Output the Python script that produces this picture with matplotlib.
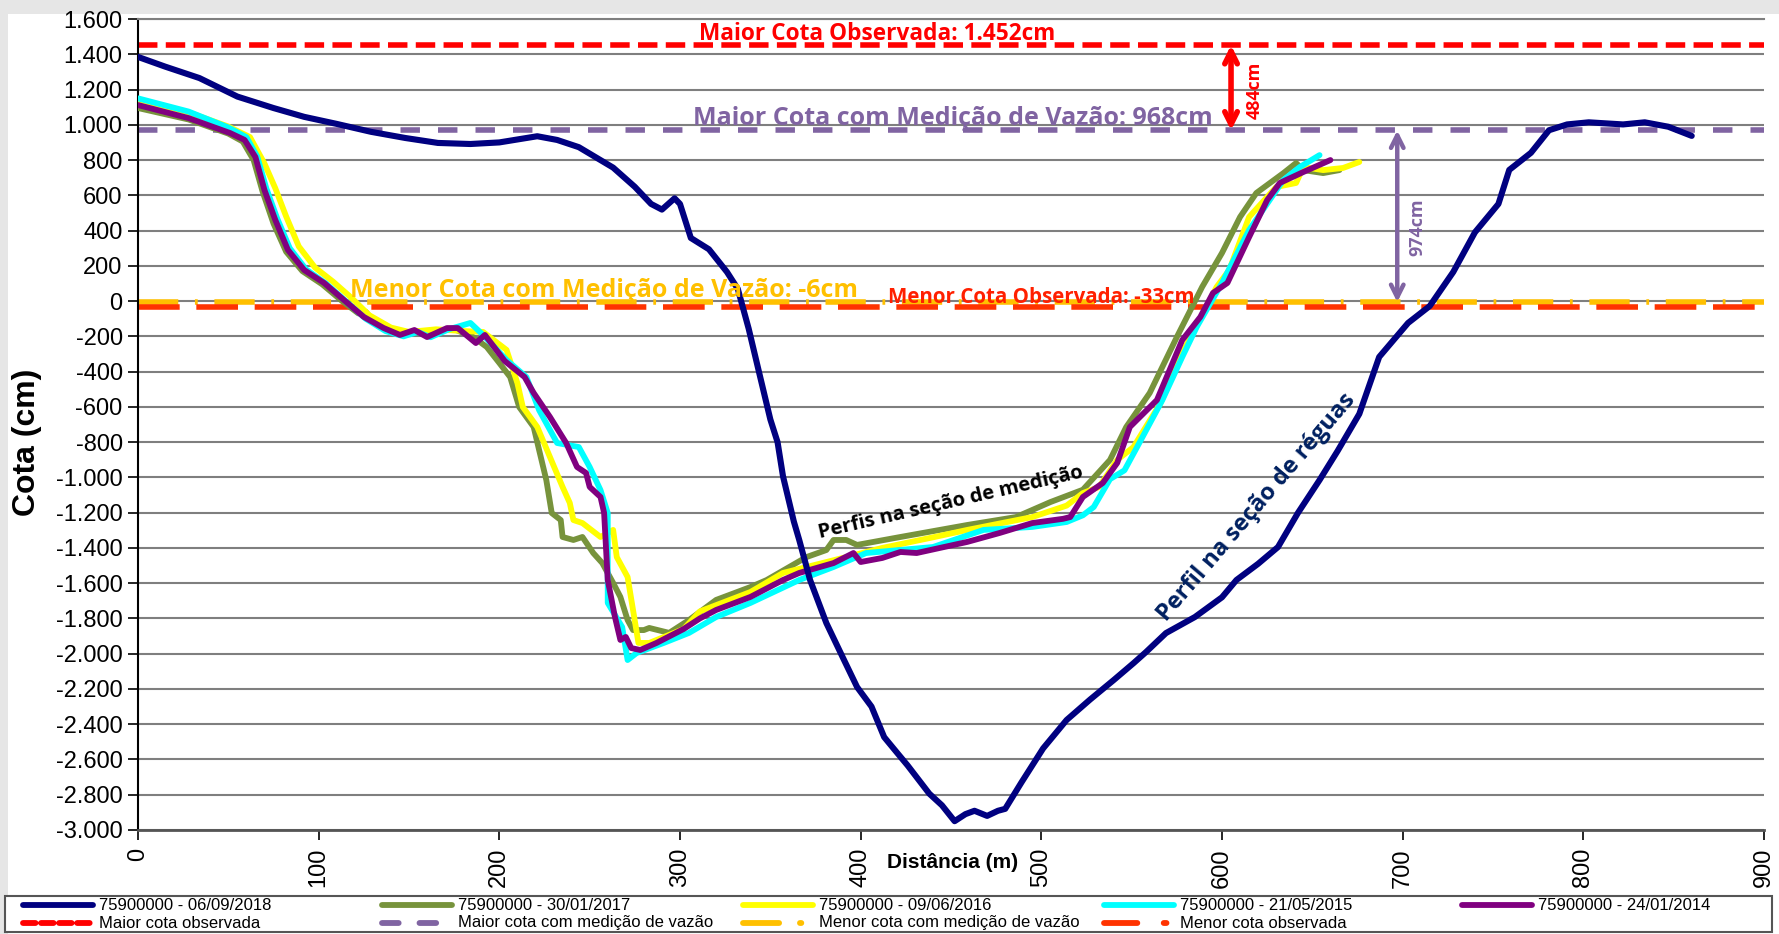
import matplotlib
matplotlib.use("Agg")
import matplotlib.pyplot as plt
from matplotlib.lines import Line2D
from matplotlib.ticker import FuncFormatter, MultipleLocator

plt.rcParams['font.family'] = ['Liberation Sans', 'DejaVu Sans']
plt.rcParams['lines.scale_dashes'] = False

# perfil na seção de réguas (06/09/2018)
x_2018 = [0, 15, 34, 55, 75, 92, 110, 129, 148, 166, 184, 200, 221, 232, 244, 263, 275, 284, 290, 297,
          300, 306, 316, 326, 332, 338, 344, 350, 354, 357, 363, 366, 372, 381, 390, 398, 406, 413, 420,
          426, 438, 445, 452, 458, 463, 470, 476, 480, 489, 501, 514, 527, 540, 551, 558, 569, 585, 600,
          608, 620, 631, 642, 654, 664, 676, 687, 703, 715, 728, 740, 753, 759, 771, 781, 791, 803, 822,
          834, 847, 860]
y_2018 = [1385, 1330, 1265, 1160, 1095, 1045, 1005, 960, 925, 897, 891, 900, 935, 914, 873, 757, 648, 551, 519, 583,
          551, 358, 294, 165, 69, -156, -414, -671, -800, -993, -1250, -1355, -1582, -1826, -2019, -2189, -2300, -2473, -2560,
          -2634, -2794, -2860, -2950, -2910, -2891, -2920, -2891, -2880, -2730, -2537, -2376, -2260, -2150, -2054, -1990, -1883, -1792, -1680,
          -1582, -1490, -1395, -1202, -1015, -850, -640, -317, -124, -28, 165, 390, 551, 744, 841, 969, 1002, 1014, 1002,
          1014, 989, 937]

# perfis na seção de medição
x_2017 = [0, 28, 50, 58, 64, 69, 75, 82, 91, 102, 113, 122, 126, 130, 140, 150, 165, 175, 185, 193, 200, 206,
          211, 219, 222, 226, 229, 234, 235, 241, 246, 252, 257, 263, 267, 271, 274, 280, 283, 294, 305, 320,
          339, 348, 370, 381, 385, 392, 398, 422, 459, 486, 505, 523, 538, 547, 560, 575, 589, 600, 610, 619,
          634, 641, 645, 656, 665]
y_2017 = [1095, 1030, 950, 905, 800, 620, 440, 280, 170, 95, 0, -70, -60, -110, -160, -180, -170, -160, -200, -260, -351, -431,
          -601, -714, -844, -1015, -1202, -1242, -1338, -1355, -1338, -1429, -1486, -1599, -1678, -1809, -1866, -1866, -1854, -1882, -1809, -1695,
          -1622, -1582, -1452, -1412, -1355, -1355, -1383, -1338, -1270, -1225, -1140, -1070, -901, -714, -521, -204, 80, 273, 477, 613,
          726, 783, 743, 726, 743]

x_2016 = [0, 28, 50, 62, 70, 76, 82, 89, 98, 108, 118, 128, 140, 150, 165, 180, 191, 204, 210, 213, 221, 228,
          235, 239, 241, 246, 256, 263, 265, 271, 274, 277, 283, 302, 311, 339, 357, 385, 412, 440, 459, 495,
          514, 523, 532, 542, 551, 566, 578, 590, 597, 604, 615, 630, 641, 645, 656, 667, 676]
y_2016 = [1140, 1070, 990, 930, 780, 640, 480, 310, 190, 110, 20, -80, -150, -175, -160, -170, -175, -277, -465, -601, -714, -884,
          -1054, -1145, -1242, -1259, -1338, -1298, -1452, -1565, -1752, -1939, -1939, -1860, -1760, -1650, -1542, -1470, -1400, -1340, -1298, -1225,
          -1160, -1089, -1054, -901, -828, -578, -295, -60, 80, 176, 477, 647, 670, 760, 743, 755, 789]

x_2015 = [0, 28, 50, 60, 66, 71, 77, 84, 93, 104, 115, 126, 137, 147, 155, 162, 172, 184, 191, 204, 215, 222,
          232, 244, 250, 256, 260, 260, 268, 271, 276, 291, 305, 320, 339, 366, 385, 403, 440, 468, 495, 514,
          523, 529, 538, 546, 555, 567, 578, 586, 600, 615, 634, 643, 654]
y_2015 = [1150, 1075, 985, 930, 820, 640, 470, 300, 180, 100, 0, -100, -170, -200, -175, -205, -160, -124, -192, -334, -431, -618,
          -805, -828, -941, -1072, -1202, -1712, -1849, -2036, -1996, -1939, -1882, -1792, -1712, -1582, -1508, -1429, -1395, -1298, -1281, -1253,
          -1215, -1168, -1010, -960, -790, -561, -317, -147, 103, 403, 687, 760, 828]

x_2014 = [0, 28, 51, 59, 65, 70, 76, 83, 92, 103, 114, 125, 136, 145, 153, 160, 171, 177, 187, 192, 203, 214,
          219, 228, 237, 243, 248, 250, 256, 258, 260, 264, 267, 270, 273, 278, 287, 302, 311, 320, 339, 357,
          366, 385, 396, 400, 412, 422, 431, 459, 477, 495, 512, 516, 523, 534, 542, 549, 564, 578, 588, 595,
          603, 615, 625, 632, 645, 660]
y_2014 = [1112, 1038, 953, 914, 817, 630, 460, 290, 176, 103, 6, -90, -153, -192, -164, -204, -153, -153, -238, -192, -340, -431,
          -521, -657, -805, -941, -975, -1054, -1111, -1202, -1582, -1792, -1922, -1905, -1968, -1979, -1939, -1860, -1800, -1752, -1678, -1582,
          -1542, -1486, -1429, -1480, -1457, -1423, -1429, -1366, -1315, -1259, -1235, -1225, -1111, -1032, -918, -714, -561, -221, -90, 46,
          103, 363, 573, 670, 732, 800]

# cotas de referência (cm)
maior_obs = 1452
maior_vazao = 968
menor_vazao = -6
menor_obs = -33

fig = plt.figure(figsize=(17.79, 9.34), dpi=100)
fig.patch.set_facecolor('#e6e6e6')
fig.add_artist(plt.Rectangle((8 / 1779, 0), 1, 1 - 14 / 934, transform=fig.transFigure,
                             facecolor='white', edgecolor='none', zorder=-10))
ax = fig.add_axes([138 / 1779, 1 - 830 / 934, 1626 / 1779, 811 / 934])

ax.axhline(maior_obs, color='#ff0000', lw=4, dashes=(14, 6), zorder=2)
ax.axhline(maior_vazao, color='#8064a2', lw=4, dashes=(14, 13), zorder=2)
ax.axhline(menor_vazao, color='#ffc000', lw=4, dashes=(29, 12, 2, 12), zorder=2)
ax.axhline(menor_obs, color='#ff3300', lw=4, dashes=(30, 12), zorder=2)

ax.plot(x_2017, y_2017, color='#77933c', lw=4.2, zorder=3, solid_capstyle='round')
ax.plot(x_2016, y_2016, color='#ffff00', lw=4.2, zorder=4, solid_capstyle='round')
ax.plot(x_2015, y_2015, color='#00ffff', lw=4.2, zorder=5, solid_capstyle='round')
ax.plot(x_2014, y_2014, color='#800080', lw=4.2, zorder=6, solid_capstyle='round')
ax.plot(x_2018, y_2018, color='#000080', lw=4.4, zorder=7, solid_capstyle='round')

ax.set_xlim(0, 900)
ax.set_ylim(-3000, 1600)
ax.xaxis.set_major_locator(MultipleLocator(100))
ax.yaxis.set_major_locator(MultipleLocator(200))
ax.yaxis.set_major_formatter(FuncFormatter(lambda v, p: f"{v:,.0f}".replace(",", ".")))
ax.grid(axis='y', color='#7f7f7f', lw=1.5)
ax.set_axisbelow(True)
ax.tick_params(axis='y', labelsize=17, length=7, width=1.2, direction='out', pad=4)
ax.tick_params(axis='x', labelsize=17, length=7, width=1.2, direction='out', labelrotation=90, pad=6)
ax.spines['right'].set_visible(False)
ax.spines['top'].set_color('#7f7f7f')
ax.spines['top'].set_linewidth(1.5)
ax.spines['left'].set_linewidth(1.5)
ax.spines['bottom'].set_linewidth(2)
ax.spines['bottom'].set_color('#555555')

fig.text(27 / 1779, 1 - 442 / 934, 'Cota (cm)', rotation=90, ha='center', va='center',
         fontsize=23, fontweight='bold')
fig.text(953 / 1779, 1 - 862 / 934, 'Distância (m)', ha='center', va='center',
         fontsize=15, fontweight='bold')

cal = ['Open Sans', 'DejaVu Sans']
ax.text(409, maior_obs - 5, 'Maior Cota Observada: 1.452cm', color='#ff0000', fontsize=16.3,
        fontweight='bold', family=cal, ha='center', va='bottom', zorder=8)
ax.text(451, maior_vazao - 5, 'Maior Cota com Medição de Vazão: 968cm', color='#8064a2', fontsize=18,
        fontweight='bold', family=cal, ha='center', va='bottom', zorder=8)
ax.text(258, menor_vazao - 5, 'Menor Cota com Medição de Vazão: -6cm', color='#ffc000', fontsize=18,
        fontweight='bold', family=cal, ha='center', va='bottom', zorder=8)
ax.text(500, menor_obs - 5, 'Menor Cota Observada: -33cm', color='#ff2000', fontsize=14.8,
        fontweight='bold', family=cal, ha='center', va='bottom', zorder=8)

ax.annotate('', xy=(605, maior_vazao), xytext=(605, maior_obs),
            arrowprops=dict(arrowstyle='<->,head_length=0.9,head_width=0.45', color='#ff0000', lw=4,
                            shrinkA=0, shrinkB=0), zorder=8)
ax.text(613, 1195, '484cm', color='#ff0000', fontsize=13, fontweight='bold',
        family=cal, rotation=90, ha='left', va='center', zorder=8)
ax.annotate('', xy=(697, menor_vazao), xytext=(697, maior_vazao),
            arrowprops=dict(arrowstyle='<->,head_length=0.9,head_width=0.45', color='#8064a2', lw=3.2,
                            shrinkA=0, shrinkB=0), zorder=8)
ax.text(703, 420, '974cm', color='#8064a2', fontsize=13, fontweight='bold',
        family=cal, rotation=90, ha='left', va='center', zorder=8)

ax.text(450, -1145, 'Perfis na seção de medição', color='black', fontsize=14.5, fontweight='bold',
        family=cal, rotation=13, rotation_mode='anchor', ha='center', va='center', zorder=8)
ax.text(619, -1168, 'Perfil na seção de réguas', color='#002060', fontsize=17, fontweight='bold',
        family=cal, rotation=49.5, rotation_mode='anchor', ha='center', va='center', zorder=8)

# legenda (duas linhas, cinco colunas)
leg_labels = ['75900000 - 06/09/2018', '75900000 - 30/01/2017', '75900000 - 09/06/2016',
              '75900000 - 21/05/2015', '75900000 - 24/01/2014',
              'Maior cota observada', 'Maior cota com medição de vazão',
              'Menor cota com medição de vazão', 'Menor cota observada']
leg_colors = ['#000080', '#77933c', '#ffff00', '#00ffff', '#800080',
              '#ff0000', '#8064a2', '#ffc000', '#ff3300']
leg_dashes = [None, None, None, None, None, (9, 4), (12, 15), (26, 15, 1, 20), (24, 19, 2, 20)]
col_x = [23, 382, 743, 1104, 1462]
row_y = [905, 923]
W, H = 1779, 934
fig.add_artist(plt.Rectangle((5 / W, 1 - 932 / H), 1767 / W, 36 / H, transform=fig.transFigure,
                             facecolor='white', edgecolor='#555555', lw=1.5))
for i, (lab, c, d) in enumerate(zip(leg_labels, leg_colors, leg_dashes)):
    cx = col_x[i % 5]
    ry = row_y[i // 5]
    ln = Line2D([cx / W, (cx + 70) / W], [1 - ry / H] * 2, transform=fig.transFigure,
                color=c, lw=4.2, solid_capstyle='round', dash_capstyle='round')
    if d is not None:
        ln.set_dashes(d)
    fig.add_artist(ln)
    fig.text((cx + 76) / W, 1 - ry / H, lab, ha='left', va='center', fontsize=12)

fig.savefig('out.png', dpi=100, facecolor=fig.get_facecolor())
